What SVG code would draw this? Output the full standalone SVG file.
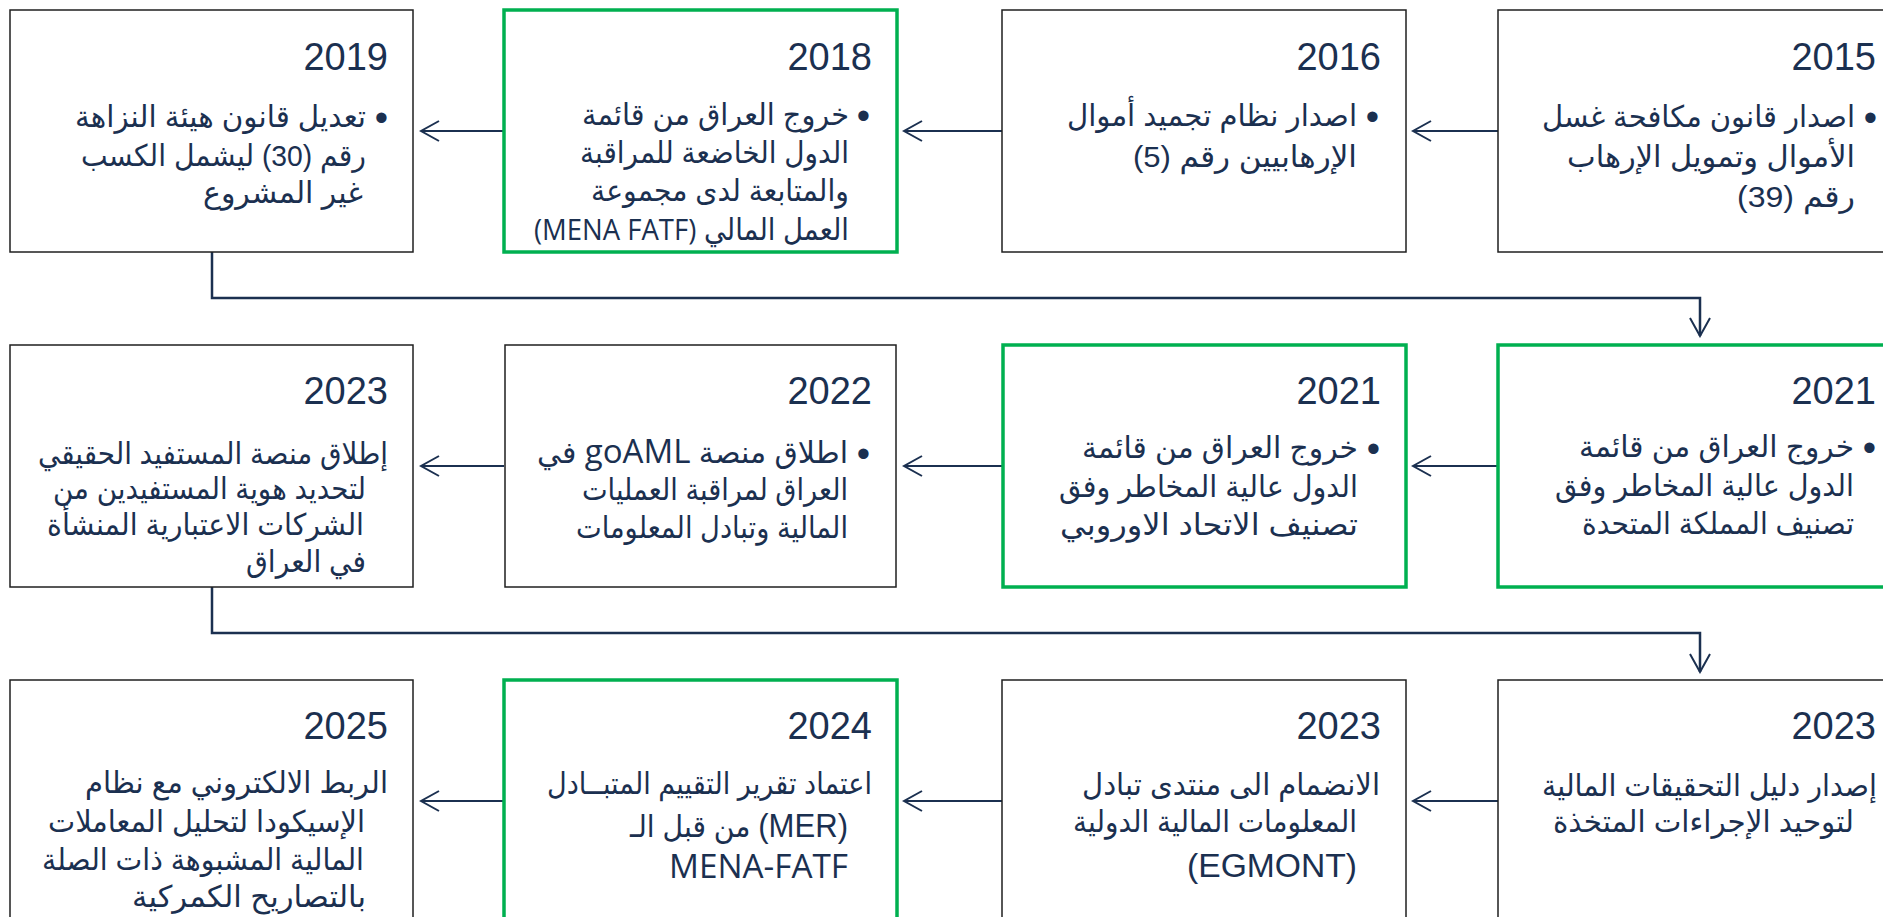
<svg xmlns="http://www.w3.org/2000/svg" width="1883" height="917" viewBox="0 0 1883 917">
<style>
.box{fill:#ffffff;stroke:#1f1f1f;stroke-width:1.5}
.hl{fill:#ffffff;stroke:#00b050;stroke-width:3.5}
.yr{font-family:"Liberation Sans","DejaVu Sans",sans-serif;font-size:38px;fill:#1b3050;text-anchor:end}
.tx{font-family:"Liberation Sans","DejaVu Sans",sans-serif;font-size:30px;fill:#1b3050;text-anchor:end}
.bl{font-family:"Liberation Sans","DejaVu Sans",sans-serif;font-size:38px;fill:#1b3050;text-anchor:end}
.lat{font-family:"Open Sans","Liberation Sans",sans-serif}
.big{font-size:33px}
.cn{fill:none;stroke:#1b3050;stroke-width:2}
.cn2{fill:none;stroke:#1b3050;stroke-width:2.5}
</style>
<defs>
<marker id="ah" markerUnits="userSpaceOnUse" viewBox="0 0 22 24" markerWidth="22" markerHeight="24" refX="20" refY="12" orient="auto">
<path d="M2,2 L20,12 L2,22" fill="none" stroke="#1b3050" stroke-width="2"/>
</marker>
</defs>
<g id="connectors">
<line class="cn" x1="504" y1="131" x2="421" y2="131" marker-end="url(#ah)"/>
<line class="cn" x1="1002" y1="131" x2="904" y2="131" marker-end="url(#ah)"/>
<line class="cn" x1="1498" y1="131" x2="1413" y2="131" marker-end="url(#ah)"/>
<path class="cn2" d="M212,252 V298 H1700 V336" marker-end="url(#ah)"/>
<line class="cn" x1="504" y1="466" x2="421" y2="466" marker-end="url(#ah)"/>
<line class="cn" x1="1002" y1="466" x2="904" y2="466" marker-end="url(#ah)"/>
<line class="cn" x1="1498" y1="466" x2="1413" y2="466" marker-end="url(#ah)"/>
<path class="cn2" d="M212,587 V633 H1700 V672" marker-end="url(#ah)"/>
<line class="cn" x1="504" y1="801" x2="421" y2="801" marker-end="url(#ah)"/>
<line class="cn" x1="1002" y1="801" x2="904" y2="801" marker-end="url(#ah)"/>
<line class="cn" x1="1498" y1="801" x2="1413" y2="801" marker-end="url(#ah)"/>
</g>
<g id="n2015">
<rect class="box" x="1498" y="10" width="403" height="242"/>
<text class="yr" x="1876" y="70">2015</text>
<text class="bl" x="1877" y="131">•</text>
<text class="tx" x="1855" y="127" textLength="313" lengthAdjust="spacingAndGlyphs">&#x202B;اصدار قانون مكافحة غسل&#x202C;</text>
<text class="tx" x="1855" y="167" textLength="288" lengthAdjust="spacingAndGlyphs">&#x202B;الأموال وتمويل الإرهاب&#x202C;</text>
<text class="tx" x="1855" y="207" textLength="118" lengthAdjust="spacingAndGlyphs">&#x202B;رقم (39)&#x202C;</text>
</g>
<g id="n2016">
<rect class="box" x="1002" y="10" width="404" height="242"/>
<text class="yr" x="1381" y="70">2016</text>
<text class="bl" x="1379" y="130">•</text>
<text class="tx" x="1357" y="126" textLength="290" lengthAdjust="spacingAndGlyphs">&#x202B;اصدار نظام تجميد أموال&#x202C;</text>
<text class="tx" x="1357" y="167" textLength="224" lengthAdjust="spacingAndGlyphs">&#x202B;الإرهابيين رقم (5)&#x202C;</text>
</g>
<g id="n2018">
<rect class="hl" x="504" y="10" width="393" height="242"/>
<text class="yr" x="872" y="70">2018</text>
<text class="bl" x="870" y="129">•</text>
<text class="tx" x="849" y="125" textLength="267" lengthAdjust="spacingAndGlyphs">&#x202B;خروج العراق من قائمة&#x202C;</text>
<text class="tx" x="849" y="163" textLength="269" lengthAdjust="spacingAndGlyphs">&#x202B;الدول الخاضعة للمراقبة&#x202C;</text>
<text class="tx" x="849" y="201" textLength="258" lengthAdjust="spacingAndGlyphs">&#x202B;والمتابعة لدى مجموعة&#x202C;</text>
<text class="tx" x="849" y="240" textLength="315" lengthAdjust="spacingAndGlyphs">&#x202B;العمل المالي <tspan class="lat">(MENA FATF)</tspan>&#x202C;</text>
</g>
<g id="n2019">
<rect class="box" x="10" y="10" width="403" height="242"/>
<text class="yr" x="388" y="70">2019</text>
<text class="bl" x="388" y="131">•</text>
<text class="tx" x="366" y="127" textLength="291" lengthAdjust="spacingAndGlyphs">&#x202B;تعديل قانون هيئة النزاهة&#x202C;</text>
<text class="tx" x="366" y="166" textLength="285" lengthAdjust="spacingAndGlyphs">&#x202B;رقم (30) ليشمل الكسب&#x202C;</text>
<text class="tx" x="363" y="203" textLength="160" lengthAdjust="spacingAndGlyphs">&#x202B;غير المشروع&#x202C;</text>
</g>
<g id="n2021uk">
<rect class="hl" x="1498" y="345" width="403" height="242"/>
<text class="yr" x="1876" y="404">2021</text>
<text class="bl" x="1876" y="461">•</text>
<text class="tx" x="1854" y="457" textLength="275" lengthAdjust="spacingAndGlyphs">&#x202B;خروج العراق من قائمة&#x202C;</text>
<text class="tx" x="1854" y="496" textLength="299" lengthAdjust="spacingAndGlyphs">&#x202B;الدول عالية المخاطر وفق&#x202C;</text>
<text class="tx" x="1854" y="534" textLength="272" lengthAdjust="spacingAndGlyphs">&#x202B;تصنيف المملكة المتحدة&#x202C;</text>
</g>
<g id="n2021eu">
<rect class="hl" x="1003" y="345" width="403" height="242"/>
<text class="yr" x="1381" y="404">2021</text>
<text class="bl" x="1380" y="462">•</text>
<text class="tx" x="1358" y="458" textLength="276" lengthAdjust="spacingAndGlyphs">&#x202B;خروج العراق من قائمة&#x202C;</text>
<text class="tx" x="1358" y="497" textLength="299" lengthAdjust="spacingAndGlyphs">&#x202B;الدول عالية المخاطر وفق&#x202C;</text>
<text class="tx" x="1358" y="535" textLength="298" lengthAdjust="spacingAndGlyphs">&#x202B;تصنيف الاتحاد الاوروبي&#x202C;</text>
</g>
<g id="n2022">
<rect class="box" x="505" y="345" width="391" height="242"/>
<text class="yr" x="872" y="404">2022</text>
<text class="bl" x="870" y="467">•</text>
<text class="tx" x="848" y="463" textLength="311" lengthAdjust="spacingAndGlyphs">&#x202B;اطلاق منصة <tspan class="lat big">goAML</tspan>  في&#x202C;</text>
<text class="tx" x="848" y="500" textLength="266" lengthAdjust="spacingAndGlyphs">&#x202B;العراق لمراقبة العمليات&#x202C;</text>
<text class="tx" x="848" y="538" textLength="272" lengthAdjust="spacingAndGlyphs">&#x202B;المالية وتبادل المعلومات&#x202C;</text>
</g>
<g id="n2023a">
<rect class="box" x="10" y="345" width="403" height="242"/>
<text class="yr" x="388" y="404">2023</text>
<text class="tx" x="388" y="464" textLength="350" lengthAdjust="spacingAndGlyphs">&#x202B;إطلاق منصة المستفيد الحقيقي&#x202C;</text>
<text class="tx" x="366" y="499" textLength="313" lengthAdjust="spacingAndGlyphs">&#x202B;لتحديد هوية المستفيدين من&#x202C;</text>
<text class="tx" x="364" y="535" textLength="317" lengthAdjust="spacingAndGlyphs">&#x202B;الشركات الاعتبارية المنشأة&#x202C;</text>
<text class="tx" x="366" y="572" textLength="120" lengthAdjust="spacingAndGlyphs">&#x202B;في العراق&#x202C;</text>
</g>
<g id="n2023b">
<rect class="box" x="1498" y="680" width="403" height="242"/>
<text class="yr" x="1876" y="739">2023</text>
<text class="tx" x="1877" y="796" textLength="335" lengthAdjust="spacingAndGlyphs">&#x202B;إصدار دليل التحقيقات المالية&#x202C;</text>
<text class="tx" x="1854" y="832" textLength="301" lengthAdjust="spacingAndGlyphs">&#x202B;لتوحيد الإجراءات المتخذة&#x202C;</text>
</g>
<g id="n2023c">
<rect class="box" x="1002" y="680" width="404" height="242"/>
<text class="yr" x="1381" y="739">2023</text>
<text class="tx" x="1380" y="795" textLength="298" lengthAdjust="spacingAndGlyphs">&#x202B;الانضمام الى منتدى تبادل&#x202C;</text>
<text class="tx" x="1357" y="832" textLength="284" lengthAdjust="spacingAndGlyphs">&#x202B;المعلومات المالية الدولية&#x202C;</text>
<text class="tx big" x="1357" y="877" textLength="170" lengthAdjust="spacingAndGlyphs">(EGMONT)</text>
</g>
<g id="n2024">
<rect class="hl" x="504" y="680" width="393" height="242"/>
<text class="yr" x="872" y="739">2024</text>
<text class="tx" x="872" y="794" textLength="325" lengthAdjust="spacingAndGlyphs">&#x202B;اعتماد تقرير التقييم المتبــادل&#x202C;</text>
<text class="tx" x="848" y="837" textLength="218" lengthAdjust="spacingAndGlyphs">&#x202B;<tspan class="big">(MER)</tspan> من قبل الـ&#x202C;</text>
<text class="tx lat big" x="848" y="878" textLength="179" lengthAdjust="spacingAndGlyphs">MENA-FATF</text>
</g>
<g id="n2025">
<rect class="box" x="10" y="680" width="403" height="242"/>
<text class="yr" x="388" y="739">2025</text>
<text class="tx" x="388" y="793" textLength="303" lengthAdjust="spacingAndGlyphs">&#x202B;الربط الالكتروني مع نظام&#x202C;</text>
<text class="tx" x="365" y="832" textLength="317" lengthAdjust="spacingAndGlyphs">&#x202B;الإسيكودا لتحليل المعاملات&#x202C;</text>
<text class="tx" x="364" y="870" textLength="322" lengthAdjust="spacingAndGlyphs">&#x202B;المالية المشبوهة ذات الصلة&#x202C;</text>
<text class="tx" x="366" y="907" textLength="234" lengthAdjust="spacingAndGlyphs">&#x202B;بالتصاريح الكمركية&#x202C;</text>
</g>
</svg>
